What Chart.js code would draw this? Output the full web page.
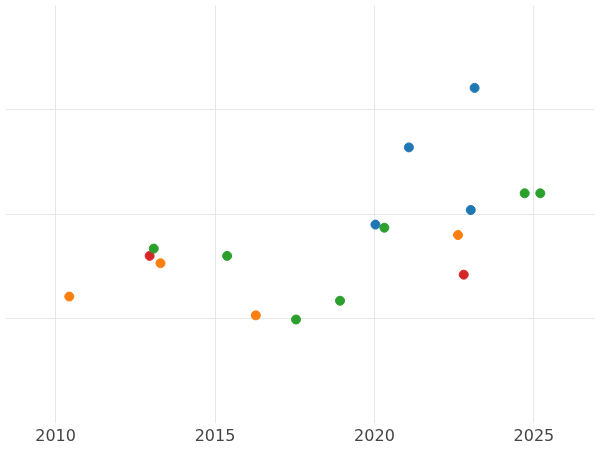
<!DOCTYPE html>
<html>
<head>
<script src="https://cdn.jsdelivr.net/npm/chart.js@4"></script>
<style>body{margin:0}#wrap{width:600px;height:450px}</style>
</head>
<body>
<div id="wrap"><canvas id="c"></canvas></div>
<script>
const xTicks = [2010, 2015, 2020, 2025];
const yGrid = [1, 2, 3];

const blueX = [2023.14, 2021.08, 2023.02, 2020.03];
const blueY = [3.21, 2.64, 2.04, 1.90];
const orangeX = [2010.43, 2013.29, 2016.28, 2022.62];
const orangeY = [1.21, 1.53, 1.03, 1.80];
const greenX = [2013.08, 2015.38, 2017.54, 2018.92, 2020.31, 2024.71, 2025.2];
const greenY = [1.67, 1.60, 0.99, 1.17, 1.87, 2.20, 2.20];
const redX = [2012.95, 2022.8];
const redY = [1.60, 1.42];

function pts(xs, ys){ return xs.map((x,i)=>({x:x, y:ys[i]})); }
function ds(xs, ys, color){
  return {data:pts(xs,ys), backgroundColor:color, borderColor:color, pointRadius:4.5, pointHoverRadius:4.5};
}

new Chart(document.getElementById("c"),{
  type:"scatter",
  data:{datasets:[
    ds(blueX, blueY, "#1f77b4"),
    ds(orangeX, orangeY, "#ff7f0e"),
    ds(greenX, greenY, "#2ca02c"),
    ds(redX, redY, "#d62728")
  ]},
  options:{
    responsive:true, maintainAspectRatio:false, animation:false,
    layout:{padding:{left:-6, right:-6, top:-6, bottom:0}},
    plugins:{legend:{display:false}, tooltip:{enabled:false}},
    scales:{
      x:{type:"linear", min:2008.43, max:2026.9,
        afterBuildTicks:s=>{s.ticks = xTicks.map(v=>({value:v}));},
        ticks:{color:"#444", font:{size:16, family:"DejaVu Sans"}, padding:4, callback:v=>String(v)},
        grid:{color:"#e6e6e6", drawTicks:false}, border:{display:false}},
      y:{min:0, max:4,
        afterBuildTicks:s=>{s.ticks = yGrid.map(v=>({value:v}));},
        ticks:{display:false},
        grid:{color:"#e6e6e6", drawTicks:false}, border:{display:false}}
    }
  }
});
</script>
</body>
</html>
